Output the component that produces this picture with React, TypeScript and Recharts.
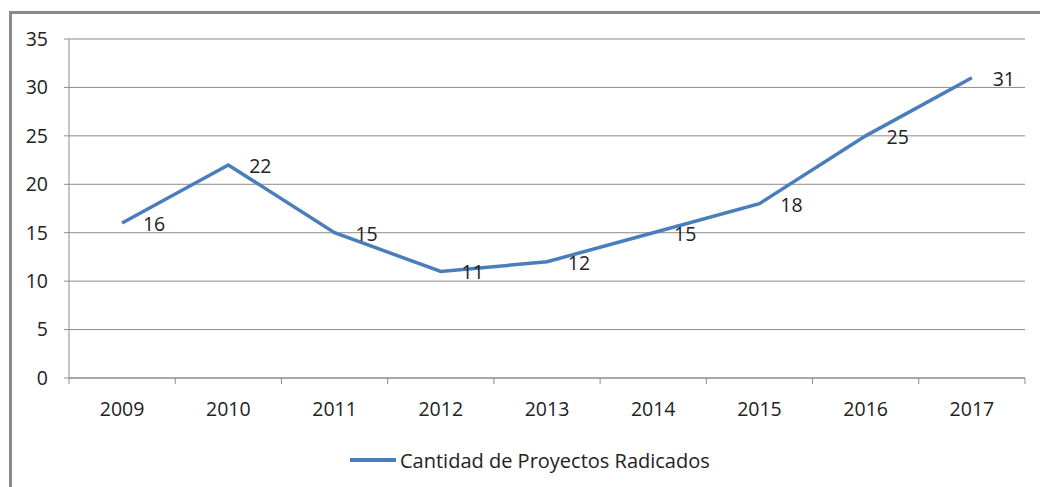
import { LineChart, Line, XAxis, YAxis, CartesianGrid, Legend, LabelList } from 'recharts';

const years = ['2009', '2010', '2011', '2012', '2013', '2014', '2015', '2016', '2017'];
const proyectos = [16, 22, 15, 11, 12, 15, 18, 25, 31];
const yTicks = [0, 5, 10, 15, 20, 25, 30, 35];
const seriesName = 'Cantidad de Proyectos Radicados';

const data = years.map((year, i) => ({ year, value: proyectos[i] }));

const FONT = '"Open Sans", sans-serif';
const GRID = '#8c8c8c';
const BLUE = '#4a7ebb';

const XTick = (props: any) => {
    const { x, y, payload, index } = props;
    const off = payload.offset ?? 0;
    const last = index === years.length - 1;
    return (
        <g>
            <line x1={x - off} x2={x - off} y1={y - 8} y2={y - 2} stroke={GRID} />
            {last && <line x1={x + off} x2={x + off} y1={y - 8} y2={y - 2} stroke={GRID} />}
            <text x={x} y={y + 30} textAnchor="middle" fontFamily={FONT} fontSize={19.5} fill="#222">
                {payload.value}
            </text>
        </g>
    );
};

const ValueLabel = (props: any) => {
    const { x, y, value } = props;
    return (
        <text x={x + 32} y={y + 8} textAnchor="middle" fontFamily={FONT} fontSize={19.5} fill="#222">
            {value}
        </text>
    );
};

const LegendContent = () => (
    <div style={{ display: 'flex', alignItems: 'center', height: 44, fontFamily: FONT, fontSize: 20, color: '#222' }}>
        <span style={{ display: 'inline-block', width: 46, height: 4, background: BLUE, marginRight: 4 }} />
        <span>{seriesName}</span>
    </div>
);

export default function App() {
    return (
        <div style={{ position: 'absolute', left: 0, top: 0, width: 1040, height: 487, overflow: 'hidden', background: '#fff' }}>
            <div
                style={{
                    position: 'absolute',
                    left: 9,
                    top: 11,
                    width: 1100,
                    height: 600,
                    borderLeft: '3px solid #8a8a8a',
                    borderTop: '3px solid #8a8a8a',
                }}
            />
            <div style={{ position: 'absolute', left: 0, top: 0 }}>
                <LineChart width={1040} height={487} data={data} margin={{ top: 39, right: 15, left: 0, bottom: 5 }}>
                    <CartesianGrid horizontal vertical={false} stroke={GRID} />
                    <XAxis
                        dataKey="year"
                        scale="band"
                        height={60}
                        tickLine={false}
                        axisLine={{ stroke: GRID }}
                        tick={<XTick />}
                        interval={0}
                    />
                    <YAxis
                        width={69}
                        domain={[0, 35]}
                        ticks={yTicks}
                        tickSize={5}
                        tickMargin={16}
                        axisLine={{ stroke: GRID }}
                        tickLine={{ stroke: GRID }}
                        tick={{ fontFamily: FONT, fontSize: 19.5, fill: '#222' }}
                    />
                    <Legend
                        verticalAlign="bottom"
                        height={44}
                        wrapperStyle={{ left: 350, width: 420 }}
                        content={<LegendContent />}
                    />
                    <Line
                        type="linear"
                        dataKey="value"
                        name={seriesName}
                        stroke={BLUE}
                        strokeWidth={3.5}
                        dot={false}
                        activeDot={false}
                        isAnimationActive={false}
                    >
                        <LabelList dataKey="value" content={<ValueLabel />} />
                    </Line>
                </LineChart>
            </div>
        </div>
    );
}
